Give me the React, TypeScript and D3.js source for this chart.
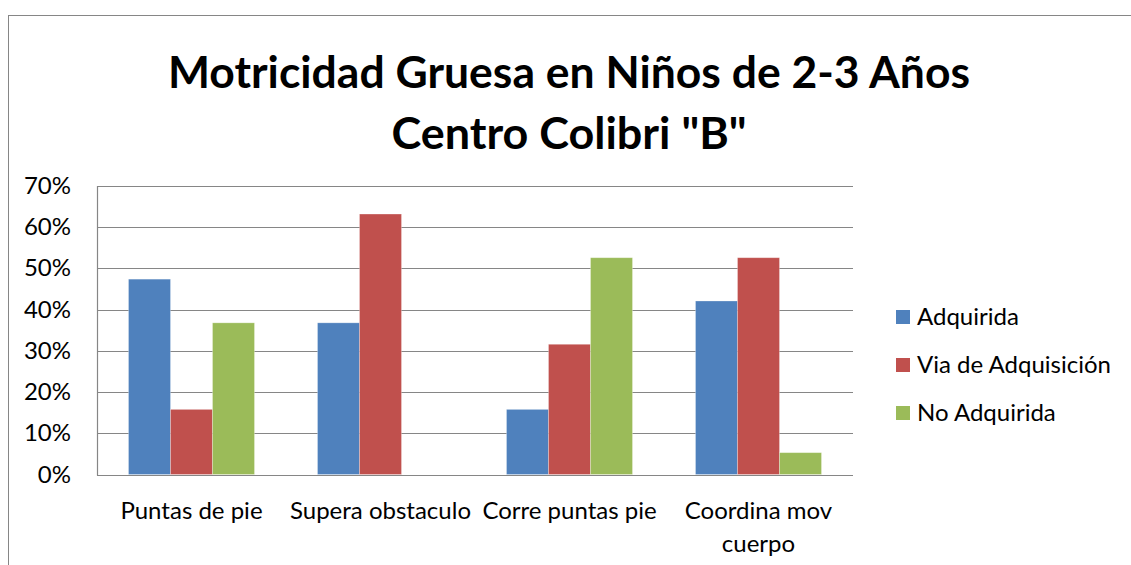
import React from "react";
import * as d3 from "d3";

const categories = ["Puntas de pie", "Supera obstaculo", "Corre puntas pie", "Coordina mov cuerpo"];
const categoryLines = [["Puntas de pie"], ["Supera obstaculo"], ["Corre puntas pie"], ["Coordina mov", "cuerpo"]];
const seriesNames = ["Adquirida", "Via de Adquisición", "No Adquirida"];
const adquirida = [0.474, 0.368, 0.158, 0.421];
const viaAdquisicion = [0.158, 0.632, 0.316, 0.526];
const noAdquirida = [0.368, 0.0, 0.526, 0.053];
const yTicks = [0, 0.1, 0.2, 0.3, 0.4, 0.5, 0.6, 0.7];
const titleLines = ["Motricidad Gruesa en Niños de 2-3 Años", 'Centro Colibri "B"'];

const colors = ["#4F81BD", "#C0504D", "#9BBB59"];
const W = 1131;
const H = 565;
const FONT = "Lato, 'Open Sans', sans-serif";
const FS = 24;

export default function App() {
  const series = [adquirida, viaAdquisicion, noAdquirida];
  const left = 97, right = 853, top = 186, bottom = 474.5;
  const x = d3.scaleBand<string>().domain(categories).range([left, right]).paddingInner(1 / 3).paddingOuter(1 / 6);
  const xs = d3.scaleBand<number>().domain([0, 1, 2]).range([0, x.bandwidth()]);
  const y = d3.scaleLinear().domain([0, 0.7]).range([bottom, top]);
  const fmt = d3.format(".0%");
  const groupStep = (right - left) / categories.length;

  return (
    <svg width={W} height={H} style={{ position: "absolute", left: 0, top: 0, background: "#fff" }}>
      <rect x={0} y={0} width={W} height={H} fill="#fff" />
      <rect x={8.5} y={15.5} width={W + 10} height={H + 10} fill="none" stroke="#868686" strokeWidth={1} />
      <text x={569} y={88} textAnchor="middle" fontFamily={FONT} fontWeight="bold" fontSize={44} fill="#000"
        textLength={802} lengthAdjust="spacingAndGlyphs">{titleLines[0]}</text>
      <text x={569} y={149} textAnchor="middle" fontFamily={FONT} fontWeight="bold" fontSize={44} fill="#000"
        textLength={355} lengthAdjust="spacingAndGlyphs">{titleLines[1]}</text>

      {yTicks.map((t) => (
        <g key={t}>
          <line x1={left} x2={right} y1={Math.round(y(t)) + 0.5} y2={Math.round(y(t)) + 0.5} stroke="#868686" strokeWidth={1.2} />
          <text x={71} y={y(t) + 8} textAnchor="end" fontFamily={FONT} fontSize={FS} fill="#000">{fmt(t)}</text>
        </g>
      ))}
      <line x1={left + 0.5} x2={left + 0.5} y1={top} y2={bottom + 1} stroke="#868686" strokeWidth={1.2} />

      {categories.map((c, i) => (
        <g key={c}>
          {series.map((s, j) => (
            <rect key={j} x={(x(c) as number) + (xs(j) as number)} y={y(s[i])} width={xs.bandwidth()}
              height={bottom - y(s[i])} fill={colors[j]} stroke="#ffffff" strokeOpacity={0.35} strokeWidth={0.8} />
          ))}
          {categoryLines[i].map((ln, k) => (
            <text key={k} x={left + groupStep * (i + 0.5)} y={519 + k * 33} textAnchor="middle" fontFamily={FONT}
              fontSize={FS} fill="#000">{ln}</text>
          ))}
        </g>
      ))}

      {seriesNames.map((n, j) => (
        <g key={n}>
          <rect x={896} y={310 + j * 48} width={14} height={14} fill={colors[j]} />
          <text x={917} y={325 + j * 48} fontFamily={FONT} fontSize={FS} fill="#000">{n}</text>
        </g>
      ))}
    </svg>
  );
}
